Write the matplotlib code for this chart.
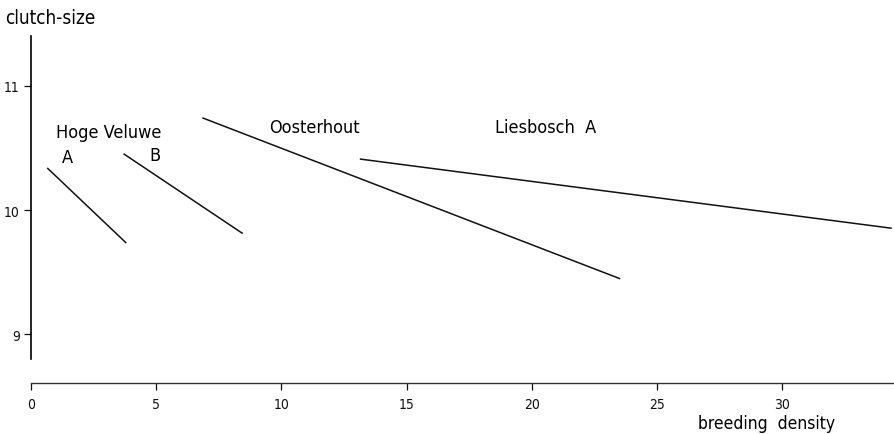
import matplotlib
matplotlib.use("Agg")
import matplotlib.pyplot as plt

plt.rcParams['font.family'] = ['DejaVu Sans']
plt.rcParams['font.stretch'] = 'condensed'

# regression lines: (x start, y start, x end, y end)
names = ["Hoge Veluwe A", "Hoge Veluwe B", "Oosterhout", "Liesbosch A"]
x_start = [0.67, 3.72, 6.87, 13.16]
y_start = [10.335, 10.45, 10.74, 10.41]
x_end = [3.78, 8.43, 23.5, 34.34]
y_end = [9.74, 9.815, 9.45, 9.855]

x_ticks = [0, 5, 10, 15, 20, 25, 30]
y_ticks = [9, 10, 11]

fig = plt.figure(figsize=(8.95, 4.35), dpi=100)
ax = fig.add_axes([31/895, 51/435, 864/895, 347/435])

for i in range(len(names)):
    ax.plot([x_start[i], x_end[i]], [y_start[i], y_end[i]], color='#111111', lw=1.1)

ax.set_xlim(0, 34.5)
ax.set_ylim(8.61, 11.4)

for s in ['top', 'right']:
    ax.spines[s].set_visible(False)
ax.spines['left'].set_bounds(8.8, 11.4)
ax.spines['left'].set_linewidth(1.2)
ax.spines['bottom'].set_linewidth(1.0)
ax.spines['bottom'].set_color('#333333')

ax.set_xticks(x_ticks)
ax.set_yticks(y_ticks)
ax.tick_params(axis='both', direction='out', length=5, width=0.9, labelsize=10, colors='#111111')
ax.tick_params(axis='x', pad=5)
ax.tick_params(axis='y', pad=3)

# labels
ax.text(3.1, 10.63, "Hoge Veluwe", fontsize=13, ha='center', va='center')
ax.text(1.47, 10.43, "A", fontsize=13, ha='center', va='center')
ax.text(4.95, 10.44, "B", fontsize=13, ha='center', va='center')
ax.text(11.3, 10.67, "Oosterhout", fontsize=13, ha='center', va='center')
ax.text(20.55, 10.67, "Liesbosch  A", fontsize=13, ha='center', va='center')

fig.text(5/895, 1 - 18/435, "clutch-size", fontsize=13.5, ha='left', va='center')
fig.text(767/895, 1 - 424/435, "breeding  density", fontsize=12.5, ha='center', va='center')

fig.savefig("out.png", dpi=100)
